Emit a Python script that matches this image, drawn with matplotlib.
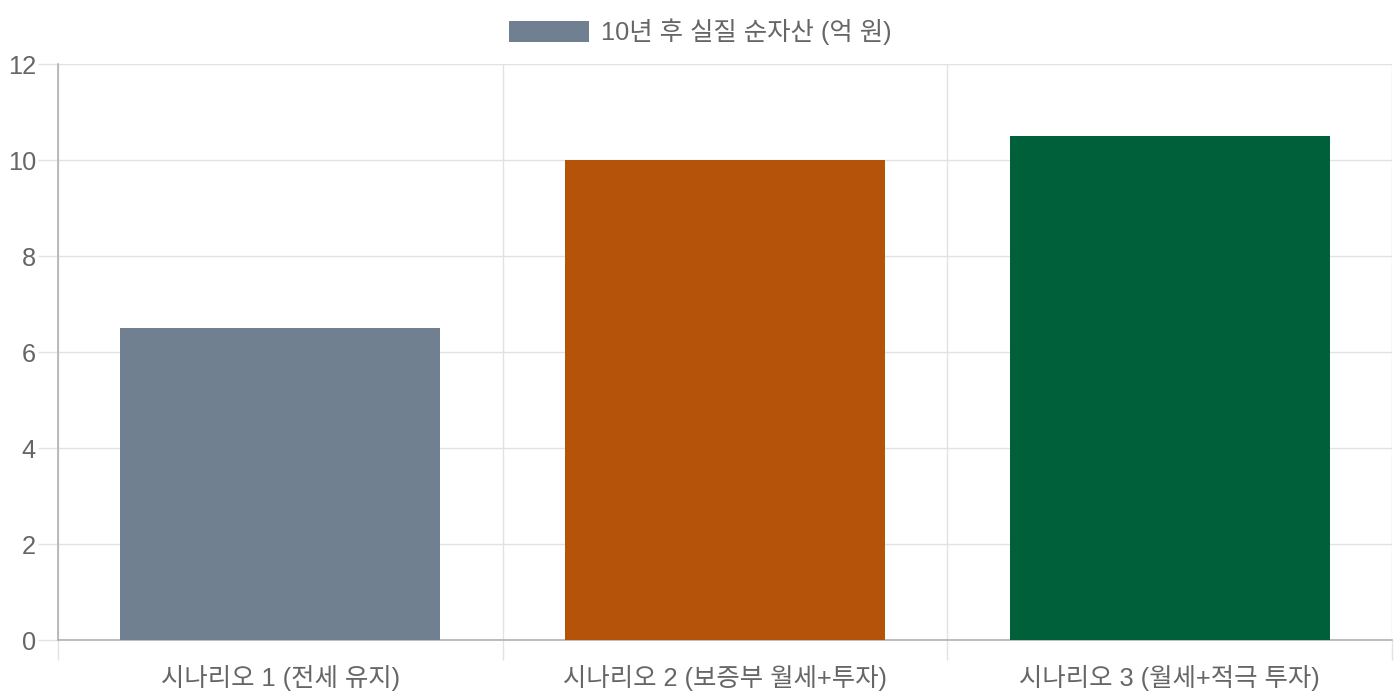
import matplotlib
matplotlib.use("Agg")
import matplotlib.pyplot as plt
from matplotlib.patches import Patch

plt.rcParams['font.family'] = ['Liberation Sans', 'Noto Sans CJK KR', 'DejaVu Sans']

categories = ["시나리오 1 (전세 유지)", "시나리오 2 (보증부 월세+투자)", "시나리오 3 (월세+적극 투자)"]
values = [6.5, 10.0, 10.5]
colors = ["#708090", "#B5530B", "#00603A"]
series_label = "10년 후 실질 순자산 (억 원)"
yticks = [0, 2, 4, 6, 8, 10, 12]

fig = plt.figure(figsize=(14, 7), dpi=100)
ax = fig.add_axes([58/1400, 60/700, (1392-58)/1400, (640-64)/700])

x = list(range(len(categories)))
ax.bar(x, values, width=0.72, color=colors, zorder=3)

ax.set_xlim(-0.5, len(categories) - 0.5)
ax.set_ylim(0, 12)

grid_c = "#e2e2e2"
axis_c = "#b0b0b0"
text_c = "#666666"
fs = 18.3

ax.set_yticks(yticks)
ax.set_yticklabels([str(v) for v in yticks])
ax.tick_params(axis='y', length=14.4, width=1, color=grid_c, labelsize=fs,
               labelcolor=text_c, pad=1.5)
ax.yaxis.grid(True, color=grid_c, linewidth=1, zorder=0)

ax.set_xticks(x)
ax.set_xticklabels(categories)
ax.set_xticks([i - 0.5 for i in range(len(categories) + 1)], minor=True)
ax.tick_params(axis='x', which='major', length=0, labelsize=fs,
               labelcolor=text_c, pad=18)
ax.tick_params(axis='x', which='minor', length=14.4, width=1, color=grid_c)
ax.xaxis.grid(True, which='minor', color=grid_c, linewidth=1, zorder=0)

for s in ['top', 'right']:
    ax.spines[s].set_visible(False)
ax.spines['left'].set_color(axis_c)
ax.spines['bottom'].set_color(axis_c)
ax.spines['left'].set_linewidth(1.2)
ax.spines['bottom'].set_linewidth(1.2)
ax.set_axisbelow(True)

handle = Patch(facecolor=colors[0], edgecolor='none')
leg = fig.legend([handle], [series_label], loc='center', bbox_to_anchor=(0.5, 1 - 32/700),
                 frameon=False, fontsize=fs, handlelength=3.15, handleheight=0.92,
                 handletextpad=0.47, borderpad=0)
for t in leg.get_texts():
    t.set_color(text_c)

fig.savefig("out.png", dpi=100, facecolor='white')
